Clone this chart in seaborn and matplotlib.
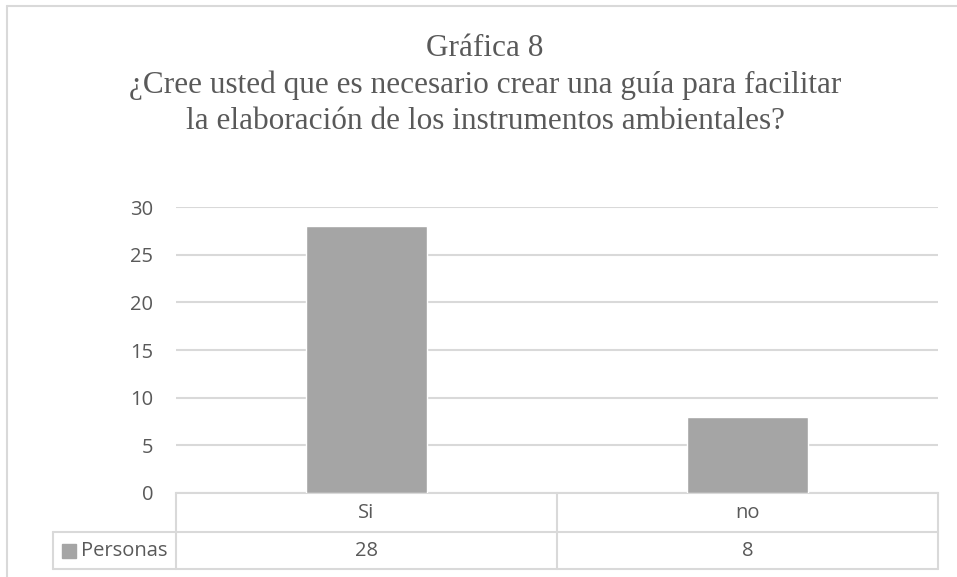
import matplotlib
matplotlib.use("Agg")
import matplotlib.pyplot as plt
from matplotlib.lines import Line2D
from matplotlib.patches import Rectangle
import matplotlib.transforms as mtransforms
import pandas as pd
import seaborn as sns

# data
categories = ["Si", "no"]
personas = [28, 8]
series_name = "Personas"
title_lines = [
    "Gráfica 8",
    "¿Cree usted que es necesario crear una guía para facilitar",
    "la elaboración de los instrumentos ambientales?",
]
y_ticks = [0, 5, 10, 15, 20, 25, 30]

bar_color = "#a5a5a5"
text_color = "#595959"
line_color = "#d9d9d9"
fs = 14.5

sns.set_theme(style="white")
plt.rcParams["font.family"] = ["Open Sans", "DejaVu Sans"]

df = pd.DataFrame({"respuesta": categories, "valor": personas})

W, H = 957, 577
fig = plt.figure(figsize=(W / 100, H / 100), dpi=100)
ax = fig.add_axes([176 / W, (H - 493) / H, (938 - 176) / W, (493 - 207) / H])

sns.barplot(data=df, x="respuesta", y="valor", color=bar_color, width=0.315,
            saturation=1, ax=ax, zorder=3)

ax.set_ylim(0, 30)
ax.set_xlim(-0.5, len(categories) - 0.5)
ax.set_yticks(y_ticks)
ax.set_yticklabels([str(t) for t in y_ticks], fontsize=fs, color=text_color)
ax.set_xticks([])
ax.set_xlabel("")
ax.set_ylabel("")
ax.tick_params(axis="y", length=0, pad=16.5)
ax.yaxis.grid(True, color=line_color, linewidth=1.5, zorder=0)
for s in ["top", "right", "left"]:
    ax.spines[s].set_visible(False)
ax.spines["bottom"].set_color(line_color)
ax.spines["bottom"].set_linewidth(1.5)

# data table under the axis
blend = mtransforms.blended_transform_factory(ax.transData, ax.transAxes)
row1 = -(532 - 493) / 286
row2 = -(569 - 493) / 286
left_cell = -(176 - 53) / 762
n = len(categories)
for xb in [i - 0.5 for i in range(n + 1)]:
    ax.plot([xb, xb], [0, row2], transform=blend, color=line_color, lw=1.5, clip_on=False)
for yr in [row1, row2]:
    ax.plot([left_cell, 1], [yr, yr], transform=ax.transAxes, color=line_color, lw=1.5, clip_on=False)
ax.plot([left_cell, left_cell], [row1, row2], transform=ax.transAxes, color=line_color, lw=1.5, clip_on=False)

for i, (cat, val) in enumerate(zip(categories, personas)):
    ax.text(i, row1 / 2, cat, transform=blend, ha="center", va="center",
            fontsize=fs, color=text_color)
    ax.text(i, (row1 + row2) / 2, str(val), transform=blend, ha="center", va="center",
            fontsize=fs, color=text_color)

# legend key in the table
kw, kh = 14 / 762, 14 / 286
ax.add_patch(Rectangle(((62 - 176) / 762, (row1 + row2) / 2 - kh / 2), kw, kh,
                       transform=ax.transAxes, color=bar_color, clip_on=False))
ax.text((81 - 176) / 762, (row1 + row2) / 2, series_name, transform=ax.transAxes,
        ha="left", va="center", fontsize=fs, color=text_color)

# title
for line, base in zip(title_lines, [56, 93, 129]):
    fig.text(485 / W, 1 - base / H, line, ha="center", va="baseline",
             fontsize=22.5, color=text_color, family=["Liberation Serif", "DejaVu Serif"])

# chart frame (partly cropped)
fig.add_artist(Line2D([7 / W, 7 / W], [0, 1 - 6 / H], color=line_color, lw=1.5))
fig.add_artist(Line2D([7 / W, 1], [1 - 6 / H, 1 - 6 / H], color=line_color, lw=1.5))

fig.savefig("out.png", dpi=100)
